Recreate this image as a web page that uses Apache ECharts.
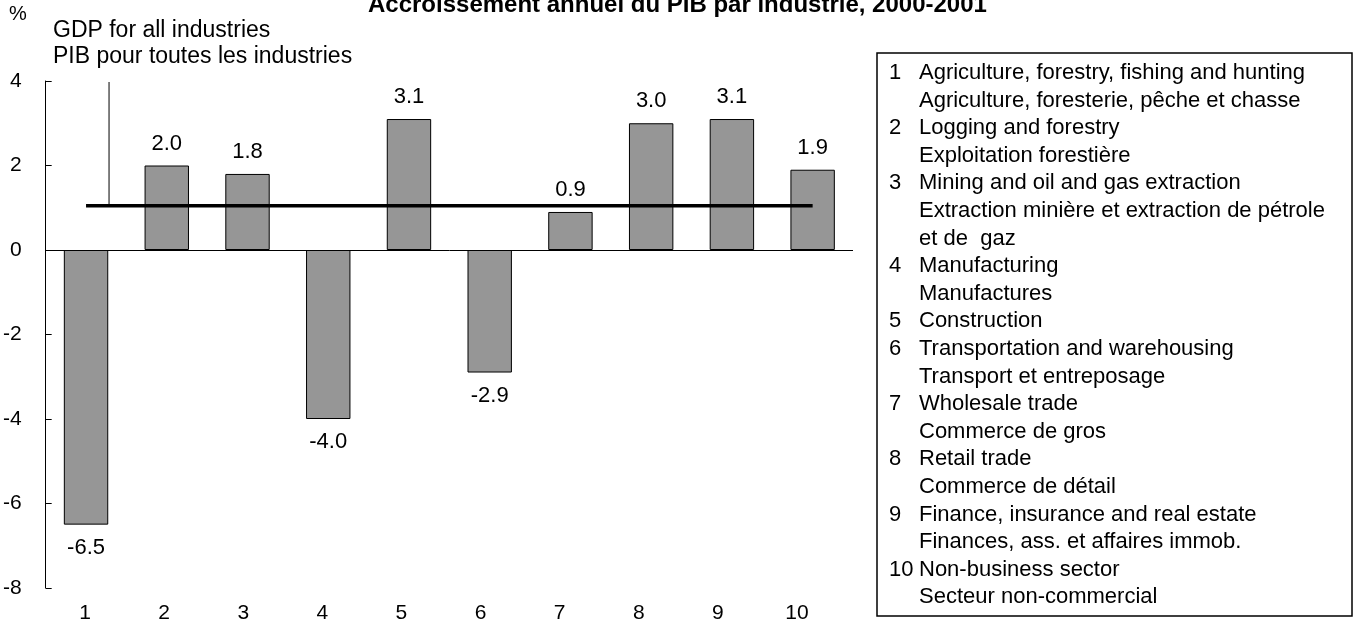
<!DOCTYPE html>
<html>
<head>
<meta charset="utf-8">
<script src="https://cdn.jsdelivr.net/npm/echarts@6/dist/echarts.min.js"></script>
<style>
    html, body { margin: 0; padding: 0; background: #fff; }
    #chart { width: 1353px; height: 629px; }
</style>
</head>
<body>
<div id="chart"></div>
<script>
// industries 1..10, annual growth 2000-2001 (%)
const categories = ['1', '2', '3', '4', '5', '6', '7', '8', '9', '10'];
const growth = [-6.5, 2.0, 1.8, -4.0, 3.1, -2.9, 0.9, 3.0, 3.1, 1.9];
const gdpAll = 1.05;
const yTicks = { min: -8, max: 4, interval: 2 };

const legendItems = [
    ['1', 'Agriculture, forestry, fishing and hunting'],
    ['', 'Agriculture, foresterie, pêche et chasse'],
    ['2', 'Logging and forestry'],
    ['', 'Exploitation forestière'],
    ['3', 'Mining and oil and gas extraction'],
    ['', 'Extraction minière et extraction de pétrole'],
    ['', 'et de  gaz'],
    ['4', 'Manufacturing'],
    ['', 'Manufactures'],
    ['5', 'Construction'],
    ['6', 'Transportation and warehousing'],
    ['', 'Transport et entreposage'],
    ['7', 'Wholesale trade'],
    ['', 'Commerce de gros'],
    ['8', 'Retail trade'],
    ['', 'Commerce de détail'],
    ['9', 'Finance, insurance and real estate'],
    ['', 'Finances, ass. et affaires immob.'],
    ['10', 'Non-business sector'],
    ['', 'Secteur non-commercial']
];

const font = 'Liberation Sans, Arial, sans-serif';

const chart = echarts.init(document.getElementById('chart'));

function txt(x, y, text, size, extra) {
    return {
        type: 'text', x: x, y: y,
        style: Object.assign({
            text: text, font: size + 'px ' + font, fill: '#000', verticalAlign: 'middle'
        }, extra || {})
    };
}

function legendGraphics() {
    const els = [{
        type: 'rect',
        shape: { x: 877, y: 53, width: 475, height: 563 },
        style: { fill: '#fff', stroke: '#000', lineWidth: 1.5 }
    }];
    legendItems.forEach((item, i) => {
        const y = 73 + i * 27.6;
        if (item[0]) els.push(txt(889, y, item[0], 22));
        els.push(txt(919, y, item[1], 22));
    });
    return els;
}

const labelText = { fontFamily: font, fontSize: 21, color: '#000' };

chart.setOption({
    animation: false,
    grid: [
        { left: 45, right: 500, top: 81, bottom: 41, containLabel: false },
        // labels row spacing slightly narrower than the bars
        { left: 45.5, right: 516.5, top: 81, bottom: 41, containLabel: false }
    ],
    xAxis: [{
        type: 'category',
        gridIndex: 0,
        data: categories,
        axisLine: { show: false },
        axisTick: { show: false },
        axisLabel: { show: false }
    }, {
        type: 'category',
        gridIndex: 1,
        data: categories,
        axisLine: { show: false },
        axisTick: { show: false },
        axisLabel: Object.assign({ margin: 15 }, labelText)
    }],
    yAxis: [{
        type: 'value',
        gridIndex: 0,
        min: yTicks.min,
        max: yTicks.max,
        interval: yTicks.interval,
        splitLine: { show: false },
        axisLine: { show: true, lineStyle: { color: '#000', width: 1 } },
        axisTick: { show: true, inside: true, length: 6, lineStyle: { color: '#000' } },
        axisLabel: Object.assign({ margin: 24 }, labelText)
    }, {
        type: 'value',
        gridIndex: 1,
        min: yTicks.min,
        max: yTicks.max,
        show: false
    }],
    series: [{
        type: 'bar',
        xAxisIndex: 0,
        yAxisIndex: 0,
        barWidth: '55%',
        itemStyle: { color: '#969696', borderColor: '#000', borderWidth: 1 },
        data: growth.map(v => ({
            value: v,
            label: { position: v < 0 ? 'bottom' : 'top', distance: v < 0 ? 12 : 11 }
        })),
        label: Object.assign({
            show: true,
            formatter: p => p.value.toFixed(1)
        }, labelText, { fontSize: 22 }),
        markLine: {
            silent: true,
            symbol: 'none',
            label: { show: false },
            lineStyle: { color: '#000', width: 1, type: 'solid' },
            data: [{ yAxis: 0 }]
        }
    }, {
        type: 'line',
        xAxisIndex: 0,
        yAxisIndex: 0,
        data: categories.map(() => gdpAll),
        symbol: 'none',
        lineStyle: { color: '#000', width: 3.5 },
        z: 3
    }],
    graphic: [
        txt(368, 17, 'Accroissement annuel du PIB par industrie, 2000-2001', 24,
            { font: 'bold 24px ' + font, verticalAlign: 'bottom' }),
        txt(9, 14, '%', 20),
        txt(53, 31, 'GDP for all industries', 23),
        txt(53, 57, 'PIB pour toutes les industries', 23)
    ].concat(legendGraphics())
});

// leader line from the annotation down to the all-industries line
const top1 = chart.convertToPixel({ gridIndex: 0 }, [0, yTicks.max]);
const onLine = chart.convertToPixel({ gridIndex: 0 }, [0, gdpAll]);
chart.setOption({
    graphic: [{
        id: 'leader',
        type: 'line',
        shape: { x1: top1[0] + 23, y1: top1[1] + 1, x2: top1[0] + 23, y2: onLine[1] },
        style: { stroke: '#000', lineWidth: 1 }
    }]
});
</script>
</body>
</html>
